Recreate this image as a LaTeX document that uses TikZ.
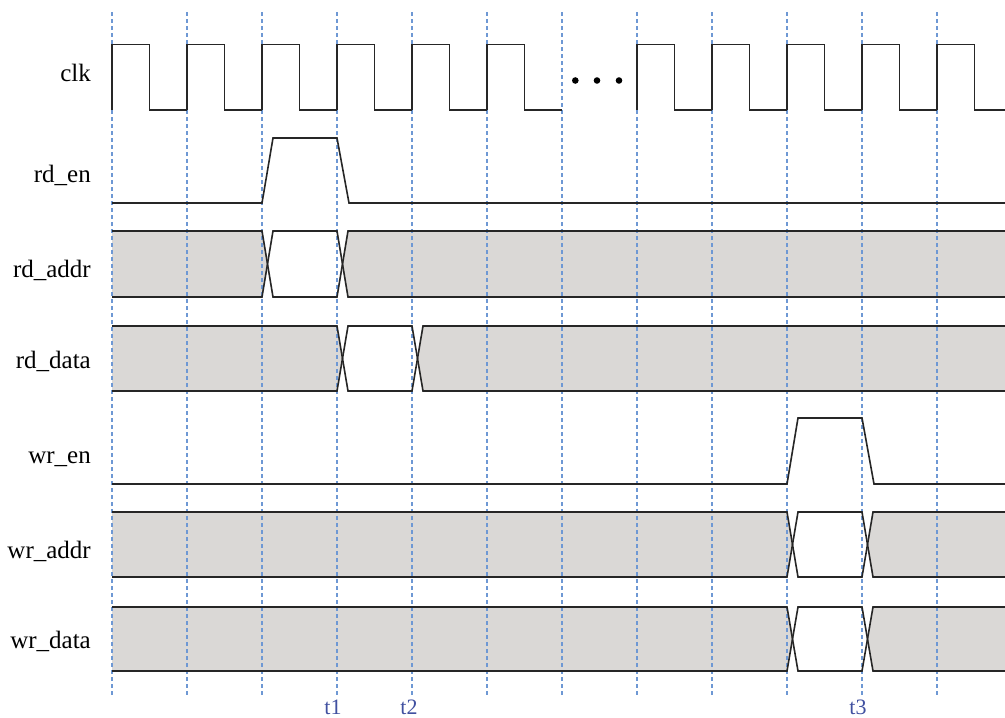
\documentclass[tikz,border=0pt]{standalone}
\usepackage{fontspec}
\setmainfont{Liberation Serif}
\definecolor{gridblue}{RGB}{110,152,212}
\definecolor{busgray}{RGB}{218,216,214}
\definecolor{tickblue}{RGB}{64,80,160}
\newcommand{\busfillrow}[4]{%
  \pgfmathsetmacro{\ym}{(#1+#2)/2}%
  \pgfmathsetmacro{\xam}{#3+5.5}%
  \pgfmathsetmacro{\xb}{#4+11}%
  \pgfmathsetmacro{\xbm}{#4+5.5}%
  \fill[busgray] (112,#1) -- (#3,#1) -- (\xam,\ym) -- (#3,#2) -- (112,#2) -- cycle;
  \fill[busgray] (1005,#1) -- (\xb,#1) -- (\xbm,\ym) -- (\xb,#2) -- (1005,#2) -- cycle;
}
\newcommand{\buslinerow}[4]{%
  \pgfmathsetmacro{\xa}{#3+11}%
  \pgfmathsetmacro{\xb}{#4+11}%
  \draw[sigline] (112,#1) -- (#3,#1) -- (\xa,#2) -- (#4,#2) -- (\xb,#1) -- (1005,#1);
  \draw[sigline] (112,#2) -- (#3,#2) -- (\xa,#1) -- (#4,#1) -- (\xb,#2) -- (1005,#2);
}
\begin{document}
\begin{tikzpicture}[x=1pt,y=-1pt,
  sigline/.style={line width=1.6pt,black!85,line join=miter},
  gridline/.style={line width=1.2pt,gridblue,dash pattern=on 4pt off 3pt},
  lbl/.style={anchor=base east,inner sep=0pt,font=\fontsize{25}{29}\selectfont},
  tick/.style={anchor=base,inner sep=0pt,text=tickblue,font=\fontsize{22}{26}\selectfont}]
\useasboundingbox (0,0) rectangle (1005,718);
% bus fills
\busfillrow{231}{297}{262}{337}
\busfillrow{326}{391}{337}{412}
\busfillrow{512}{577}{787}{862}
\busfillrow{607}{671}{787}{862}
% grid
\foreach \k in {0,...,11}{
  \draw[gridline] (112+75*\k,12) -- (112+75*\k,697);
}
% clock
\foreach \x in {112,187,262,337,412,487}{
  \draw[sigline] (\x,110) -- (\x,44.5) -- (\x+37.5,44.5) -- (\x+37.5,110) -- (\x+75,110);
}
\foreach \x in {637,712,787,862}{
  \draw[sigline] (\x,110) -- (\x,44.5) -- (\x+37.5,44.5) -- (\x+37.5,110) -- (\x+75,110);
}
\draw[sigline] (937,110) -- (937,44.5) -- (974.5,44.5) -- (974.5,110) -- (1005,110);
\foreach \x in {575.3,597,619}{
  \fill (\x,80.5) circle[radius=3.3pt];
}
% enables
\draw[sigline] (112,203) -- (262,203) -- (273,138) -- (337,138) -- (349,203) -- (1005,203);
\draw[sigline] (112,484) -- (787,484) -- (798,418) -- (862,418) -- (874,484) -- (1005,484);
% bus lines
\buslinerow{231}{297}{262}{337}
\buslinerow{326}{391}{337}{412}
\buslinerow{512}{577}{787}{862}
\buslinerow{607}{671}{787}{862}
% labels
\node[lbl] (lclk) at (91,81) {clk};
\node[lbl] (lrden) at (91,182) {rd\_en};
\node[lbl] (lrdaddr) at (91,277) {rd\_addr};
\node[lbl] (lrddata) at (91,368) {rd\_data};
\node[lbl] (lwren) at (91,463) {wr\_en};
\node[lbl] (lwraddr) at (91,558) {wr\_addr};
\node[lbl] (lwrdata) at (91,648) {wr\_data};
\node[tick] (t1) at (333,714) {t1};
\node[tick] (t2) at (409,714) {t2};
\node[tick] (t3) at (858,714) {t3};
\end{tikzpicture}
\end{document}
